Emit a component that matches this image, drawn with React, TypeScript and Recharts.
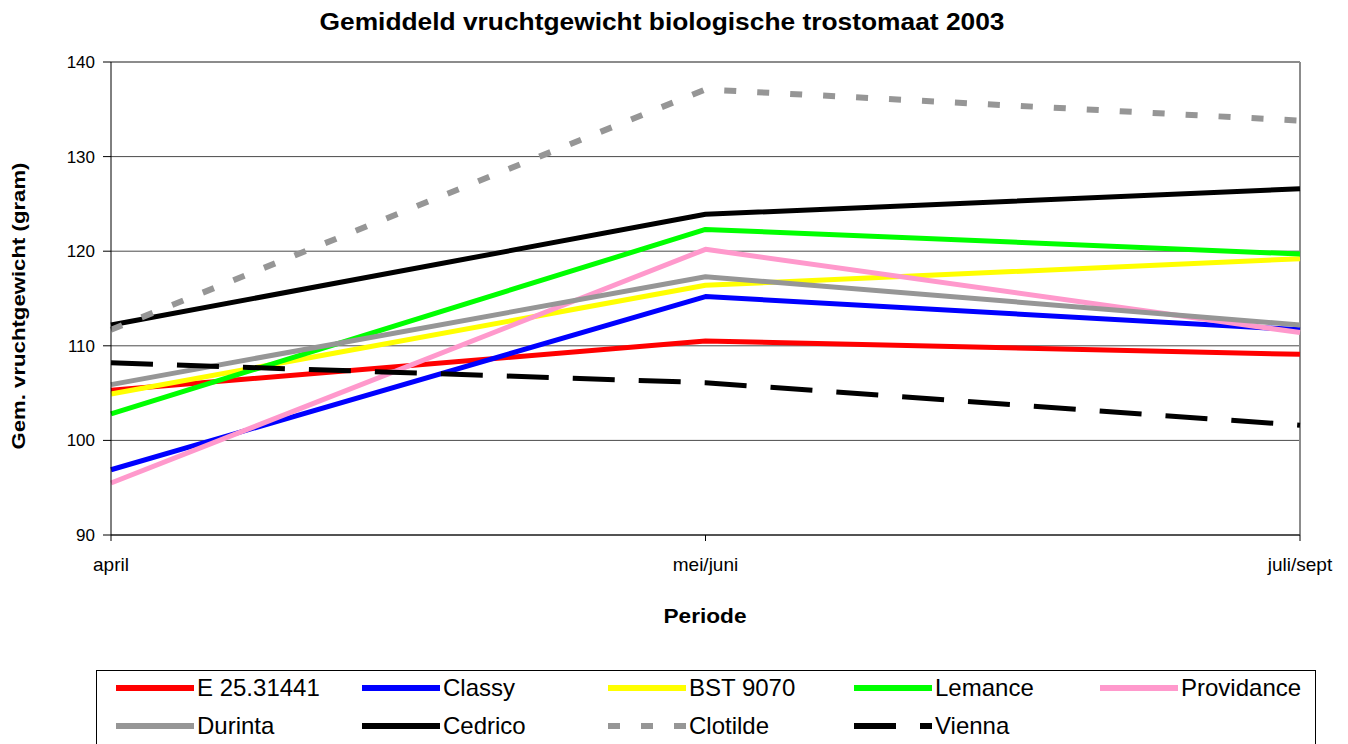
import { LineChart, Line, XAxis, YAxis, CartesianGrid, ReferenceLine } from "recharts";

const periods = ["april", "mei/juni", "juli/sept"];
const yTicks = [90, 100, 110, 120, 130, 140];

const e25 = [105.3, 110.5, 109.1];
const classy = [96.9, 115.2, 111.7];
const bst = [104.9, 116.4, 119.2];
const lemance = [102.8, 122.3, 119.7];
const providance = [95.5, 120.2, 111.4];
const durinta = [105.9, 117.3, 112.2];
const cedrico = [112.2, 123.9, 126.6];
const clotilde = [111.7, 137.1, 133.8];
const vienna = [108.2, 106.1, 101.6];

type Series = {
  key: string;
  name: string;
  values: number[];
  color: string;
  dash?: string;
};

const series: Series[] = [
  { key: "s0", name: "E 25.31441", values: e25, color: "#FF0000" },
  { key: "s1", name: "Classy", values: classy, color: "#0000FF" },
  { key: "s2", name: "BST 9070", values: bst, color: "#FFFF00" },
  { key: "s3", name: "Lemance", values: lemance, color: "#00FF00" },
  { key: "s4", name: "Providance", values: providance, color: "#FF99CC" },
  { key: "s5", name: "Durinta", values: durinta, color: "#969696" },
  { key: "s6", name: "Cedrico", values: cedrico, color: "#000000" },
  { key: "s7", name: "Clotilde", values: clotilde, color: "#969696", dash: "12 21" },
  { key: "s8", name: "Vienna", values: vienna, color: "#000000", dash: "42 24" },
];

const data = periods.map((period, i) => {
  const row: Record<string, string | number> = { period };
  series.forEach((s) => {
    row[s.key] = s.values[i];
  });
  return row;
});

const FONT = '"Liberation Sans", Arial, sans-serif';

function ChartLegend() {
  return (
    <div
      style={{
        position: "absolute",
        left: 96,
        top: 670,
        width: 1220,
        height: 90,
        border: "1px solid #000",
        boxSizing: "border-box",
        fontFamily: FONT,
      }}
    >
      {series.map((s, i) => {
        const col = i % 5;
        const row = Math.floor(i / 5);
        return (
          <div
            key={s.key}
            style={{
              position: "absolute",
              left: 18 + col * 246,
              top: 5 + row * 38,
              height: 24,
              display: "flex",
              alignItems: "center",
              whiteSpace: "nowrap",
            }}
          >
            <svg width={80} height={8}>
              <line x1={1} y1={4} x2={79} y2={4} stroke={s.color} strokeWidth={6} strokeDasharray={s.dash} />
            </svg>
            <span style={{ fontSize: 24, lineHeight: "24px", marginLeft: 2 }}>{s.name}</span>
          </div>
        );
      })}
    </div>
  );
}

export default function App() {
  return (
    <div style={{ position: "absolute", left: 0, top: 0, width: 1348, height: 744, overflow: "hidden", background: "#fff" }}>
      <LineChart width={1348} height={744} data={data} margin={{ top: 62, right: 48, bottom: 119, left: 0 }}>
        <CartesianGrid vertical={false} stroke="#4a4a4a" strokeWidth={1} />
        <XAxis
          dataKey="period"
          height={90}
          tickSize={6}
          tickMargin={17}
          stroke="#000"
          tick={{ fontSize: 19, fill: "#000", fontFamily: FONT }}
        />
        <YAxis
          width={111}
          domain={[90, 140]}
          ticks={yTicks}
          tickSize={8}
          tickMargin={8}
          stroke="#000"
          allowDataOverflow
          tick={{ fontSize: 17, fill: "#000", fontFamily: FONT }}
        />
        <ReferenceLine y={140} stroke="#8c8c8c" strokeWidth={2} />
        <ReferenceLine x="juli/sept" stroke="#8c8c8c" strokeWidth={2} />
        {series.map((s) => (
          <Line
            key={s.key}
            dataKey={s.key}
            name={s.name}
            type="linear"
            stroke={s.color}
            strokeWidth={s.dash === "12 21" ? 6 : 5}
            strokeDasharray={s.dash}
            strokeLinejoin="round"
            dot={false}
            activeDot={false}
            isAnimationActive={false}
          />
        ))}
      </LineChart>

      {/* title and axis titles */}
      <svg width={1348} height={744} style={{ position: "absolute", left: 0, top: 0, pointerEvents: "none" }}>
        <text x={662} y={30} textAnchor="middle" fontFamily={FONT} fontWeight="bold" fontSize={23} textLength={685} lengthAdjust="spacingAndGlyphs">
          Gemiddeld vruchtgewicht biologische trostomaat 2003
        </text>
        <text x={705} y={623} textAnchor="middle" fontFamily={FONT} fontWeight="bold" fontSize={20} textLength={83} lengthAdjust="spacingAndGlyphs">
          Periode
        </text>
        <text
          x={0}
          y={0}
          transform="translate(25 306) rotate(-90)"
          textAnchor="middle"
          fontFamily={FONT}
          fontWeight="bold"
          fontSize={19}
          textLength={287}
          lengthAdjust="spacingAndGlyphs"
        >
          Gem. vruchtgewicht (gram)
        </text>
      </svg>

      <ChartLegend />
    </div>
  );
}
